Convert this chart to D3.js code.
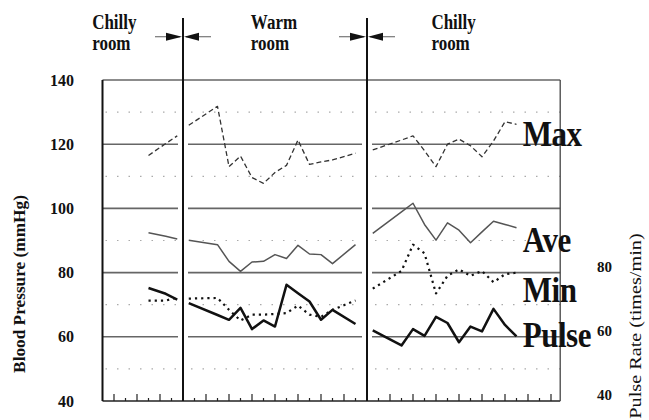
<!DOCTYPE html>
<html>
<head>
<meta charset="utf-8">
<script src="https://cdn.jsdelivr.net/npm/d3@7"></script>
<style>
  html, body { margin: 0; padding: 0; background: #fff; }
  svg { display: block; }
  text { font-family: "Liberation Serif", "Times New Roman", serif; fill: #111; }
</style>
</head>
<body>
<div id="chart"></div>
<script>
// room periods and header labels (x is in time units)
const roomNames = [["Chilly", "room"], ["Warm", "room"], ["Chilly", "room"]];
const roomLabelX = [-0.9, 12.9, 28.6];
const roomChanges = [7, 23];
const xMax = 39.8;

// axes
const bpTicks = [40, 60, 80, 100, 120, 140];
const bpDotted = [50, 70, 90, 110, 130];
const pulseTicks = [40, 60, 80];

// sample times in each room
const times = [
    [4, 5.5, 6.5],
    [7.5, 10, 11, 12, 13, 14, 15, 16, 17, 18, 19, 20, 22],
    [23.5, 26, 27, 28, 29, 30, 31, 32, 33, 34, 35, 36]
];

// blood pressure (mmHg)
const maxBP = [
    [116.5, 120.2, 122.6],
    [125.9, 131.8, 113.0, 116.3, 109.6, 107.8, 111.2, 113.4, 121.3, 113.7, 114.5, 115.1, 117.2],
    [118.2, 121.3, 122.6, 118.0, 113.0, 120.0, 121.6, 119.5, 116.1, 121.0, 127.0, 126.2]
];
const aveBP = [
    [92.4, 91.3, 90.5],
    [90.1, 88.7, 83.5, 80.4, 83.3, 83.5, 85.6, 84.4, 88.5, 85.8, 85.6, 82.8, 88.7],
    [92.2, 98.9, 101.6, 95.0, 90.1, 95.5, 93.2, 89.3, 92.7, 96.0, 95.0, 94.0]
];
const minBP = [
    [71.3, 71.3, 72.2],
    [71.9, 72.1, 68.4, 65.1, 66.9, 66.9, 67.1, 67.4, 69.7, 66.9, 66.2, 68.4, 71.3],
    [75.0, 80.5, 88.7, 86.0, 73.5, 79.0, 81.0, 79.0, 80.5, 77.0, 79.5, 80.0]
];
// pulse rate (times/min)
const pulse = [
    [75.2, 73.4, 71.6],
    [70.5, 66.8, 65.3, 69.0, 62.4, 65.1, 63.2, 76.2, 73.6, 71.0, 65.3, 68.4, 64.0],
    [62.0, 57.3, 62.4, 60.3, 66.2, 64.3, 58.3, 63.2, 61.7, 68.7, 63.7, 60.1]
];

const seriesNames = ["Max", "Ave", "Min", "Pulse"];
const seriesLabelAt = [119.4, 86.3, 70.9, 56.9];
const seriesLabelX = 36.55;

const width = 649, height = 420;

const svg = d3.select("#chart")
    .append("svg")
    .attr("width", width)
    .attr("height", height);

svg.append("rect").attr("width", width).attr("height", height).attr("fill", "#fff");

const x = d3.scaleLinear().domain([0, xMax]).range([102.5, 102.5 + xMax * 11.5]);
const y = d3.scaleLinear().domain([40, 140]).range([401, 80]);

// panel edges, gridlines stop a little short of the room dividers
const edges = [0].concat(roomChanges, [xMax]);
const panels = d3.range(3).map(i => [
    x(edges[i]) + (i > 0 ? 5 : 0),
    x(edges[i + 1]) - (i < 2 ? 5 : 0)
]);

// dotted gridlines
bpDotted.forEach(v => {
    panels.forEach(p => {
        svg.append("line")
            .attr("x1", p[0] + 3).attr("x2", p[1])
            .attr("y1", y(v)).attr("y2", y(v))
            .attr("stroke", "#aaa")
            .attr("stroke-width", 1.2)
            .attr("stroke-dasharray", "1.5,10");
    });
});

// solid gridlines
bpTicks.filter(v => v > 40 && v < 140).forEach(v => {
    panels.forEach(p => {
        svg.append("line")
            .attr("x1", p[0]).attr("x2", p[1])
            .attr("y1", y(v)).attr("y2", y(v))
            .attr("stroke", "#666")
            .attr("stroke-width", 1.6);
    });
});

// frame
svg.append("line")
    .attr("x1", x(0)).attr("x2", x(xMax))
    .attr("y1", y(140)).attr("y2", y(140))
    .attr("stroke", "#666").attr("stroke-width", 1.6);
svg.append("line")
    .attr("x1", x(0)).attr("x2", x(xMax))
    .attr("y1", y(40)).attr("y2", y(40))
    .attr("stroke", "#222").attr("stroke-width", 1.5);
svg.append("line")
    .attr("x1", x(0)).attr("x2", x(0))
    .attr("y1", y(140)).attr("y2", y(40))
    .attr("stroke", "#111").attr("stroke-width", 2);
svg.append("line")
    .attr("x1", x(xMax)).attr("x2", x(xMax))
    .attr("y1", y(140)).attr("y2", y(40))
    .attr("stroke", "#444").attr("stroke-width", 1.3);

// x ticks, taller on odd minutes
svg.append("g")
    .selectAll("line")
    .data(d3.range(1, 40))
    .enter()
    .append("line")
    .attr("x1", d => x(d)).attr("x2", d => x(d))
    .attr("y1", y(40))
    .attr("y2", d => y(40) - (d % 2 ? 7 : 3))
    .attr("stroke", "#222")
    .attr("stroke-width", 1.2);

// left axis labels
svg.append("g")
    .selectAll("text")
    .data(bpTicks)
    .enter()
    .append("text")
    .attr("x", 74)
    .attr("y", d => y(d))
    .attr("dy", "0.35em")
    .attr("text-anchor", "end")
    .style("font-size", "16px")
    .style("font-weight", "bold")
    .text(d => d);

// right axis labels (pulse shares the same scale)
svg.append("g")
    .selectAll("text")
    .data(pulseTicks)
    .enter()
    .append("text")
    .attr("x", 597)
    .attr("y", d => y(d) - 1)
    .style("font-size", "15px")
    .style("font-weight", "bold")
    .text(d => d);

svg.append("text")
    .attr("transform", "translate(19,284) rotate(-90) scale(1.08,1)")
    .attr("dy", "0.35em")
    .attr("text-anchor", "middle")
    .style("font-size", "16px")
    .style("font-weight", "bold")
    .text("Blood Pressure (mmHg)");

svg.append("text")
    .attr("transform", "translate(635,326) rotate(-90) scale(1.19,1)")
    .attr("dy", "0.35em")
    .attr("text-anchor", "middle")
    .style("font-size", "17px")
    .text("Pulse Rate (times/min)");

// series lines, broken at each room change
const line = d3.line()
    .x(d => x(d[0]))
    .y(d => y(d[1]));

const seriesStyle = [
    {values: maxBP, stroke: "#333", width: 1.3, dash: "5,3"},
    {values: aveBP, stroke: "#555", width: 1.5, dash: null},
    {values: minBP, stroke: "#111", width: 2.2, dash: "2.2,4"},
    {values: pulse, stroke: "#111", width: 2.5, dash: null}
];

seriesStyle.forEach(s => {
    times.forEach((t, i) => {
        svg.append("path")
            .datum(t.map((tt, j) => [tt, s.values[i][j]]))
            .attr("d", line)
            .attr("fill", "none")
            .attr("stroke", s.stroke)
            .attr("stroke-width", s.width)
            .attr("stroke-dasharray", s.dash)
            .attr("stroke-linejoin", "round");
    });
});

// room dividers with arrows
roomChanges.forEach(c => {
    const cx = x(c);
    svg.append("line")
        .attr("x1", cx).attr("x2", cx)
        .attr("y1", 18).attr("y2", y(40))
        .attr("stroke", "#111").attr("stroke-width", 2);
    const ay = 36.7;
    svg.append("line")
        .attr("x1", cx - 28).attr("x2", cx - 3)
        .attr("y1", ay).attr("y2", ay)
        .attr("stroke", "#777").attr("stroke-width", 1.2);
    svg.append("line")
        .attr("x1", cx + 3).attr("x2", cx + 28)
        .attr("y1", ay).attr("y2", ay)
        .attr("stroke", "#777").attr("stroke-width", 1.2);
    svg.append("path")
        .attr("d", `M${cx - 1},${ay} L${cx - 17},${ay - 4} L${cx - 17},${ay + 4} Z`)
        .attr("fill", "#111");
    svg.append("path")
        .attr("d", `M${cx + 1},${ay} L${cx + 16},${ay - 4} L${cx + 16},${ay + 4} Z`)
        .attr("fill", "#111");
});

// room headers
roomNames.forEach((name, i) => {
    name.forEach((word, k) => {
        svg.append("text")
            .attr("transform", "translate(" + x(roomLabelX[i]) + "," + (k ? 50 : 29.3) + ") scale(1,1.18)")
            .style("font-size", "17px")
            .style("font-weight", "bold")
            .text(word);
    });
});

// series names on the right
seriesNames.forEach((name, i) => {
    svg.append("text")
        .attr("transform", "translate(" + x(seriesLabelX) + "," + y(seriesLabelAt[i]) + ") scale(1,1.13)")
        .style("font-size", "31px")
        .style("font-weight", "bold")
        .style("letter-spacing", "-0.5px")
        .text(name);
});
</script>
</body>
</html>
